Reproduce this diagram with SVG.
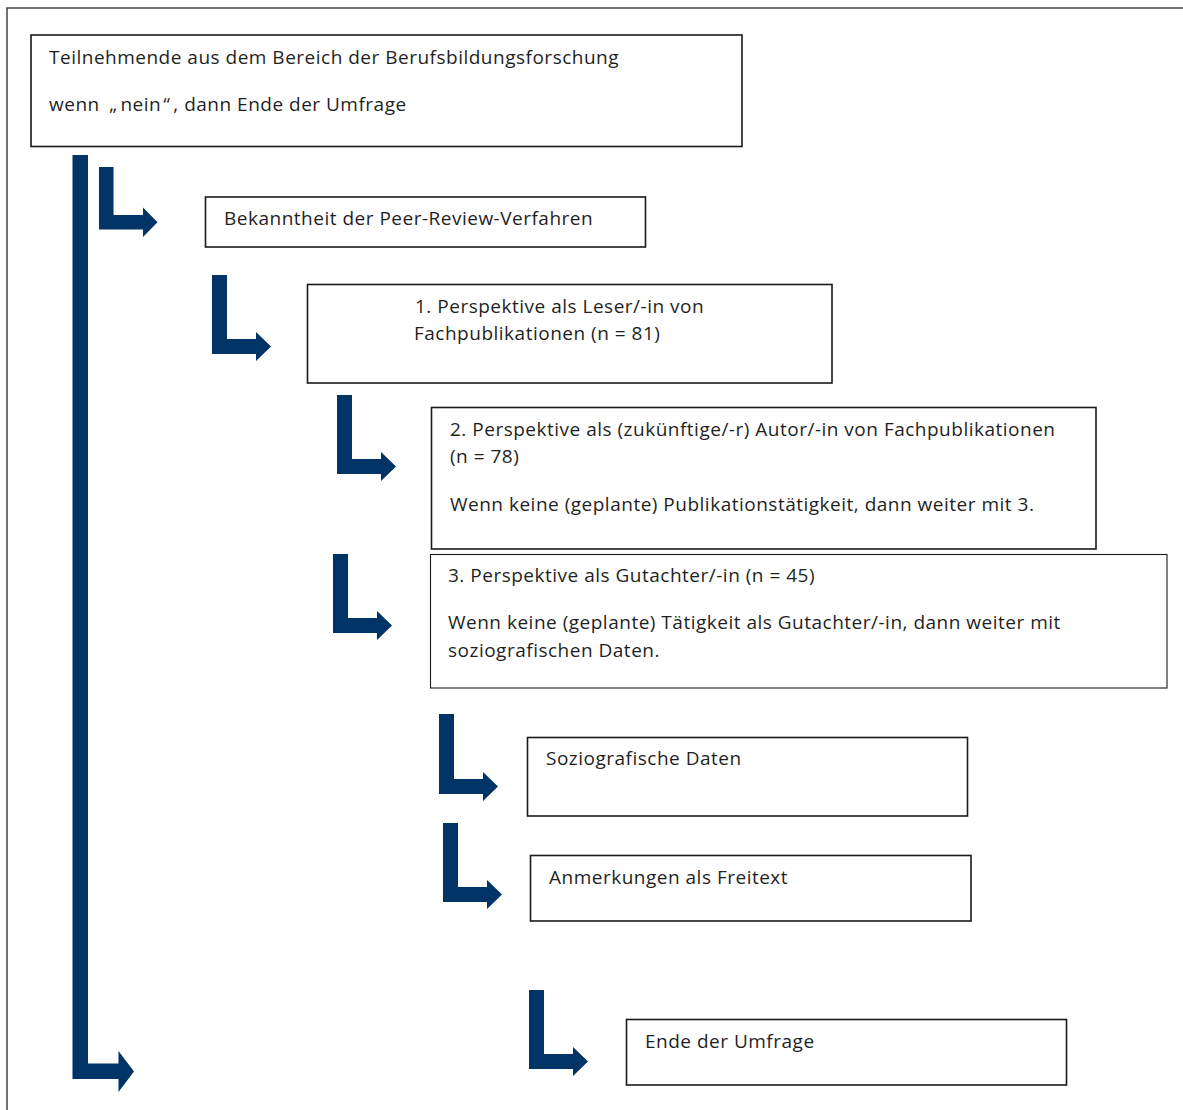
<svg xmlns="http://www.w3.org/2000/svg" width="1183" height="1110" viewBox="0 0 1183 1110">
<style>
  .box { fill: #ffffff; stroke: #1a1a1a; stroke-width: 1.6; }
  .thin { stroke-width: 1.1; }
  .t { font-family: "Open Sans", "Noto Sans", "DejaVu Sans", sans-serif; font-size: 19px; letter-spacing: 0.5px; fill: #1f1f1f; }
  .arrow { fill: #003366; }
</style>
<rect x="0" y="0" width="1183" height="1110" fill="#ffffff"/>
<path d="M7,1110 V8 H1183" fill="none" stroke="#444" stroke-width="1.5"/>

<g id="connectors">
  <path class="arrow" d="M72.5,155 h15.5 V1063.5 H118.5 V1051 L134,1071.5 L118.5,1092 V1079 H72.5 Z"/>
  <path class="arrow" d="M99,167 h14.5 V215 H143 V207.5 L157.5,222.25 L143,237 V229.5 H99 Z"/>
  <path class="arrow" d="M212,275 h15 V339 H256 V332 L271,346.5 L256,361 V354 H212 Z"/>
  <path class="arrow" d="M337,395 h15 V459 H381 V452 L396,466.5 L381,481 V474 H337 Z"/>
  <path class="arrow" d="M333,554 h15 V618 H377 V611 L392,625.5 L377,640 V633 H333 Z"/>
  <path class="arrow" d="M439,714 h15 V779 H483 V772 L498,786.5 L483,801 V794 H439 Z"/>
  <path class="arrow" d="M443,823 h15 V887 H487 V880 L502,894.5 L487,909 V902 H443 Z"/>
  <path class="arrow" d="M529,990 h15 V1054 H573 V1047 L588,1061.5 L573,1076 V1069 H529 Z"/>
</g>

<g id="node-teilnehmende">
  <rect class="box" x="31" y="35" width="711" height="111.5"/>
  <text class="t" x="49" y="64">Teilnehmende aus dem Bereich der Berufsbildungsforschung</text>
  <text class="t" x="49" y="111">wenn <tspan dx="4">„</tspan><tspan dx="3">nein</tspan><tspan dx="2">“</tspan><tspan dx="3">, dann Ende der Umfrage</tspan></text>
</g>

<g id="node-bekanntheit">
  <rect class="box" x="205.5" y="197" width="440" height="50"/>
  <text class="t" x="224" y="225">Bekanntheit der Peer-Review-Verfahren</text>
</g>

<g id="node-leser">
  <rect class="box" x="307.5" y="284.5" width="524.5" height="98.5"/>
  <text class="t" x="415" y="313">1. Perspektive als Leser/-in von</text>
  <text class="t" x="414" y="340">Fachpublikationen (n = 81)</text>
</g>

<g id="node-autor">
  <rect class="box" x="431.5" y="407.5" width="664.5" height="141.5"/>
  <text class="t" x="450" y="436">2. Perspektive als (zukünftige/-r) Autor/-in von Fachpublikationen</text>
  <text class="t" x="450" y="463">(n = 78)</text>
  <text class="t" x="450" y="511">Wenn keine (geplante) Publikationstätigkeit, dann weiter mit 3.</text>
</g>

<g id="node-gutachter">
  <rect class="box thin" x="430.5" y="554.5" width="736.5" height="133.5"/>
  <text class="t" x="448" y="582">3. Perspektive als Gutachter/-in (n = 45)</text>
  <text class="t" x="448" y="629">Wenn keine (geplante) Tätigkeit als Gutachter/-in, dann weiter mit</text>
  <text class="t" x="448" y="657">soziografischen Daten.</text>
</g>

<g id="node-soziografisch">
  <rect class="box" x="527.5" y="737.5" width="440" height="78.5"/>
  <text class="t" x="546" y="765">Soziografische Daten</text>
</g>

<g id="node-anmerkungen">
  <rect class="box" x="530.5" y="855.5" width="440.5" height="65.5"/>
  <text class="t" x="549" y="884">Anmerkungen als Freitext</text>
</g>

<g id="node-ende">
  <rect class="box" x="626.5" y="1019.5" width="440" height="65.5"/>
  <text class="t" x="645" y="1048">Ende der Umfrage</text>
</g>
</svg>
